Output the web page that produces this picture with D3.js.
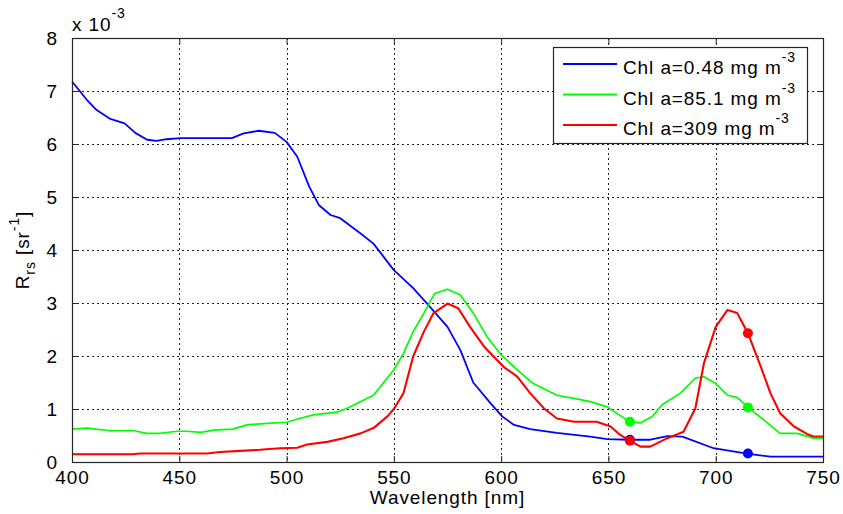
<!DOCTYPE html>
<html>
<head>
<meta charset="utf-8">
<script src="https://cdn.jsdelivr.net/npm/d3@7"></script>
<style>
  body { margin: 0; background: #fff; }
  text { font-family: "Liberation Sans", Arial, sans-serif; fill: #000; }
</style>
</head>
<body>
<svg id="plot" width="843" height="514"></svg>
<script>
const width = 843;
const height = 514;

// Rrs values are in units of 1e-3 sr^-1 (as labelled on the axis)
const blueWl = [400, 407, 411.5, 417.5, 424.5, 429.5, 435, 439.5, 444, 450.5, 474.5, 480, 487, 494.5, 500, 505, 510.5, 515, 520.5, 525, 534.5, 540.5, 550, 559, 565.5, 575, 581, 587, 595, 600.5, 606, 613.5, 626, 641.5, 649.5, 659.5, 669.5, 677.5, 684.5, 699, 714.5, 725.5, 750];
const blueRrs = [7.18, 6.83, 6.64, 6.48, 6.39, 6.21, 6.08, 6.06, 6.09, 6.11, 6.11, 6.20, 6.25, 6.21, 6.04, 5.76, 5.20, 4.85, 4.66, 4.60, 4.31, 4.12, 3.62, 3.28, 2.99, 2.55, 2.11, 1.50, 1.11, 0.86, 0.70, 0.62, 0.55, 0.48, 0.43, 0.42, 0.42, 0.49, 0.48, 0.26, 0.16, 0.10, 0.10];

const greenWl = [400, 407, 418, 429, 435, 441, 449, 453.5, 460, 466, 475, 481.5, 491, 500, 506, 512.5, 523.5, 528, 536, 540.5, 550, 554.5, 559, 564, 569, 575, 581, 587, 593.5, 600, 607.5, 615, 626, 634, 641.5, 649.5, 655, 660, 665, 670.5, 675, 683.5, 690.5, 694.5, 700, 705.5, 710, 715, 722.5, 730, 738, 745.5, 750];
const greenRrs = [0.62, 0.64, 0.59, 0.59, 0.54, 0.54, 0.58, 0.58, 0.56, 0.60, 0.62, 0.70, 0.73, 0.75, 0.82, 0.89, 0.94, 1.01, 1.17, 1.26, 1.74, 2.05, 2.46, 2.81, 3.18, 3.26, 3.15, 2.81, 2.36, 2.02, 1.74, 1.48, 1.26, 1.20, 1.14, 1.04, 0.89, 0.76, 0.74, 0.86, 1.08, 1.30, 1.58, 1.61, 1.48, 1.26, 1.22, 1.03, 0.79, 0.54, 0.54, 0.45, 0.45];

const redWl = [400, 428.5, 431.5, 463, 469, 478.5, 487.5, 497, 505, 509.5, 519, 526.5, 534.5, 540.5, 547, 550, 554.5, 559, 564, 568.5, 575, 580, 585.5, 592, 596.5, 601, 607.5, 613.5, 620, 626, 634, 644.5, 651, 655.5, 660, 665, 669.5, 677.5, 685, 690.5, 694.5, 700, 705.5, 710, 715, 721, 725.5, 730, 736.5, 742.5, 745.5, 750];
const redRrs = [0.145, 0.145, 0.16, 0.16, 0.19, 0.21, 0.23, 0.26, 0.27, 0.33, 0.38, 0.45, 0.54, 0.64, 0.86, 1.00, 1.30, 1.99, 2.46, 2.81, 2.99, 2.90, 2.55, 2.18, 1.99, 1.80, 1.61, 1.30, 1.01, 0.82, 0.76, 0.76, 0.67, 0.51, 0.40, 0.29, 0.29, 0.45, 0.57, 1.01, 1.86, 2.55, 2.87, 2.81, 2.43, 1.80, 1.30, 0.92, 0.67, 0.53, 0.48, 0.48];

const markerWl = [660, 715];
const blueMarks = [0.42, 0.16];
const greenMarks = [0.76, 1.03];
const redMarks = [0.40, 2.43];

const seriesNames = ["Chl a=0.48 mg m", "Chl a=85.1 mg m", "Chl a=309 mg m"];
const seriesColors = ["#0000ff", "#00ff00", "#ff0000"];

const xTicks = [400, 450, 500, 550, 600, 650, 700, 750];
const yTicks = [0, 1, 2, 3, 4, 5, 6, 7, 8];

const margin = { left: 72, right: 20, top: 38, bottom: 52 };

const svg = d3.select("#plot");

const x = d3.scaleLinear().domain([400, 750]).range([margin.left, width - margin.right]);
const y = d3.scaleLinear().domain([0, 8]).range([height - margin.bottom, margin.top]);

const x0 = x.range()[0], x1 = x.range()[1];
const y0 = y.range()[0], y1 = y.range()[1];

// grid
const grid = svg.append("g").attr("stroke", "#222").attr("stroke-width", 1).attr("stroke-dasharray", "2,3");
grid.selectAll(".gx").data(xTicks.slice(1, -1)).enter().append("line")
  .attr("x1", d => Math.round(x(d)) + 0.5).attr("x2", d => Math.round(x(d)) + 0.5)
  .attr("y1", y1).attr("y2", y0);
grid.selectAll(".gy").data(yTicks.slice(1, -1)).enter().append("line")
  .attr("y1", d => Math.round(y(d)) + 0.5).attr("y2", d => Math.round(y(d)) + 0.5)
  .attr("x1", x0).attr("x2", x1);

// series
const series = [
  { wl: blueWl, v: blueRrs, marks: blueMarks, w: 1.8 },
  { wl: greenWl, v: greenRrs, marks: greenMarks, w: 1.7 },
  { wl: redWl, v: redRrs, marks: redMarks, w: 2.1 }
];

const line = d3.line().x(d => x(d[0])).y(d => y(d[1]));

series.forEach((s, i) => {
  svg.append("path")
    .datum(s.wl.map((w, j) => [w, s.v[j]]))
    .attr("d", line)
    .attr("fill", "none")
    .attr("stroke", seriesColors[i])
    .attr("stroke-width", s.w)
    .attr("stroke-linejoin", "round");
});

series.forEach((s, i) => {
  svg.selectAll(null).data(markerWl.map((w, j) => [w, s.marks[j]])).enter().append("circle")
    .attr("cx", d => x(d[0])).attr("cy", d => y(d[1]))
    .attr("r", 5).attr("fill", seriesColors[i]);
});

// axes frame
const axisColor = "#262626";
svg.append("rect")
  .attr("x", x0 + 0.5).attr("y", y1 + 0.5)
  .attr("width", x1 - x0).attr("height", y0 - y1)
  .attr("fill", "none").attr("stroke", axisColor).attr("stroke-width", 1.2);

const xAxis = d3.axisBottom(x).tickValues(xTicks).tickSize(-6).tickPadding(9);
const gx = svg.append("g").attr("transform", `translate(0,${y0})`).call(xAxis);
const xAxisTop = d3.axisTop(x).tickValues(xTicks).tickSize(-6).tickFormat("");
const gxt = svg.append("g").attr("transform", `translate(0,${y1})`).call(xAxisTop);
const yAxis = d3.axisLeft(y).tickValues(yTicks).tickSize(-6).tickPadding(14);
const gy = svg.append("g").attr("transform", `translate(${x0},0)`).call(yAxis);
const yAxisRight = d3.axisRight(y).tickValues(yTicks).tickSize(-6).tickFormat("");
const gyr = svg.append("g").attr("transform", `translate(${x1},0)`).call(yAxisRight);

[gx, gxt, gy, gyr].forEach(g => {
  g.select(".domain").remove();
  g.selectAll(".tick line").attr("stroke", axisColor);
  g.selectAll("text")
    .attr("font-family", "'Liberation Sans', Arial, sans-serif")
    .attr("font-size", 19).attr("letter-spacing", 0.9).attr("fill", "#000");
});

// exponent label
const exp = svg.append("text").attr("x", x0).attr("y", 31).attr("font-size", 19).attr("letter-spacing", 0.9);
exp.append("tspan").text("x 10");
exp.append("tspan").attr("dy", -13).attr("font-size", 14).text("-3");

// axis titles
svg.append("text")
  .attr("x", (x0 + x1) / 2).attr("y", 504)
  .attr("text-anchor", "middle").attr("font-size", 19).attr("letter-spacing", 0.9)
  .text("Wavelength [nm]");

const yl = svg.append("text")
  .attr("transform", `translate(29,250) rotate(-90)`)
  .attr("text-anchor", "middle").attr("font-size", 19).attr("letter-spacing", 0.9);
yl.append("tspan").text("R");
yl.append("tspan").attr("dy", 6).attr("font-size", 14).text("rs");
yl.append("tspan").attr("dy", -6).text(" [sr");
yl.append("tspan").attr("dy", -10).attr("font-size", 14).text("-1");
yl.append("tspan").attr("dy", 10).text("]");

// legend
const legend = svg.append("g");
legend.append("rect")
  .attr("x", 553.5).attr("y", 47.5).attr("width", 254).attr("height", 96)
  .attr("fill", "#fff").attr("stroke", axisColor).attr("stroke-width", 1.2);

const legY = d3.scalePoint().domain(seriesNames).range([64, 125]);
seriesNames.forEach((name, i) => {
  const ly = legY(name);
  legend.append("line")
    .attr("x1", 563).attr("x2", 617).attr("y1", ly).attr("y2", ly)
    .attr("stroke", seriesColors[i]).attr("stroke-width", 2);
  const t = legend.append("text").attr("x", 623).attr("y", ly + 10)
    .attr("font-size", 19).attr("letter-spacing", 0.9);
  t.append("tspan").text(name);
  t.append("tspan").attr("dy", -12).attr("font-size", 14).text("-3");
});
</script>
</body>
</html>
